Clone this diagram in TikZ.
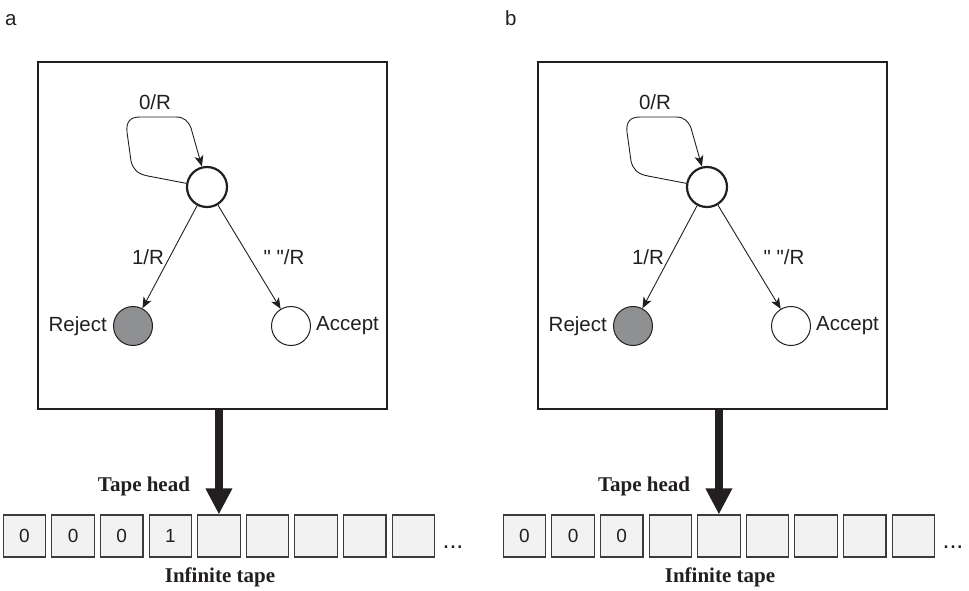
\documentclass[tikz,border=0pt]{standalone}
\usepackage{fontspec}
\setmainfont{Liberation Serif}
\setsansfont{Liberation Sans}[Ligatures=TeXOff]
\usetikzlibrary{arrows.meta}

\definecolor{ink}{HTML}{231F20}
\definecolor{cellfill}{HTML}{F1F2F1}
\definecolor{cellline}{HTML}{3C3C3C}
\definecolor{rejfill}{RGB}{143,144,146}

\tikzset{
  ctrlbox/.style={draw=ink, line width=2pt, minimum width=349pt, minimum height=347pt, inner sep=0pt},
  state/.style={circle, draw=ink, fill=white, line width=1pt, minimum size=39pt, inner sep=0pt},
  startstate/.style={state, line width=2.2pt, minimum size=40pt},
  cell/.style={draw=cellline, fill=cellfill, line width=1.1pt, minimum width=42.5pt,
    minimum height=42pt, inner sep=0pt, text=ink, font=\sffamily\fontsize{19}{22}\selectfont},
  edge/.style={line width=0.9pt, draw=ink, -{Stealth[length=11pt,width=9pt,inset=3pt]}},
  lbl/.style={font=\sffamily\fontsize{20.5}{24}\selectfont, text=ink, inner sep=0pt},
  caption/.style={font=\bfseries\fontsize{21}{24}\selectfont, text=ink, inner sep=0pt},
  headarrow/.style={line width=8pt, draw=ink, -{Triangle[width=25pt,length=26pt]}},
}

% one Turing-machine panel: #1 panel letter, #2 tape symbols
\newcommand\tmpanel[2]{%
  \node[lbl, anchor=base west] (tag) at (5,25) {#1};
  \node[ctrlbox] (ctrl) at (212.5,235.5) {};
  % states
  \node[startstate] (q0) at (207,187) {};
  \node[state, fill=rejfill] (rej) at (133,326) {};
  \node[state] (acc) at (291,326) {};
  \node[lbl, anchor=east] (rejtxt) at (107,326) {Reject};
  \node[lbl, anchor=west] (acctxt) at (316,326) {Accept};
  % transitions
  \draw[edge] (q0.170) -- (148,176) .. controls (137,174) and (133,169) .. (131,161)
     -- (127,132) .. controls (126,122) and (130,117) .. (140,117)
     -- (176,117) .. controls (184,117) and (188,121) .. (191,128) -- (q0.104);
  \node[lbl] (l0) at (155,102) {0/R};
  \draw[edge] (q0) -- (rej);
  \node[lbl] (l1) at (148,257) {1/R};
  \draw[edge] (q0) -- (acc);
  \node[lbl] (lb) at (284,257) {" "/R};
  % tape
  \foreach \s [count=\i] in {#2} {
    \node[cell] (c\i) at ({24.5+48.6*(\i-1)},536) {\s};
  }
  \node[lbl, font=\sffamily\fontsize{25}{28}\selectfont, anchor=base] (more) at (453,548) {...};
  \draw[headarrow] (ctrl.south -| c5.north) -- (c5.north);
  \node[caption] (headtxt) at (144,486) {Tape head};
  \node[caption] (tapetxt) at (220,577) {Infinite tape};
}

\begin{document}
\begin{tikzpicture}[x=1pt, y=-1pt]
  \useasboundingbox (0,0) rectangle (969,590);
  \begin{scope}[name prefix=a-]
    \tmpanel{a}{0,0,0,1,{},{},{},{},{}}
  \end{scope}
  \begin{scope}[xshift=500pt, name prefix=b-]
    \tmpanel{b}{0,0,0,{},{},{},{},{},{}}
  \end{scope}
\end{tikzpicture}
\end{document}
